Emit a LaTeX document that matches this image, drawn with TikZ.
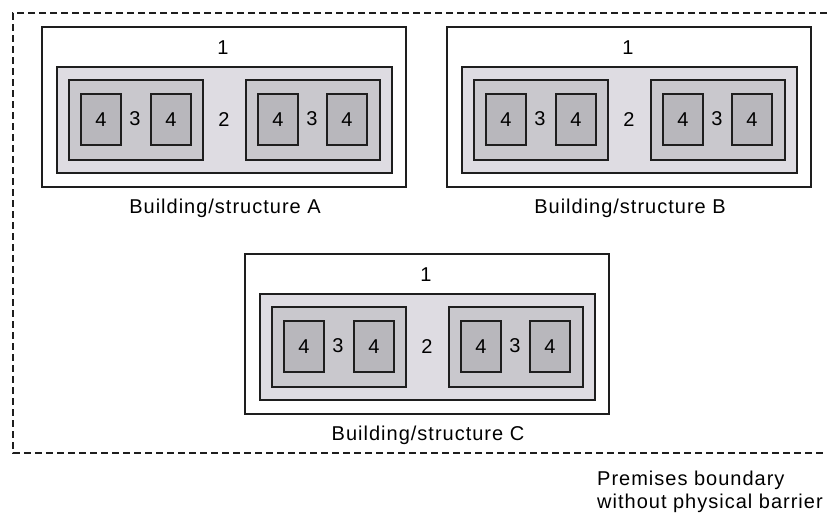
\documentclass[tikz,border=0pt]{standalone}
\usepackage{fontspec}
\setmainfont{Liberation Sans}[LetterSpace=5]
\definecolor{boxline}{RGB}{30,30,30}
\definecolor{zonetwo}{RGB}{222,220,226}
\definecolor{zonethree}{RGB}{201,200,205}
\definecolor{zonefour}{RGB}{184,183,188}
\tikzset{
  every node/.style={font=\fontsize{20}{24}\selectfont, inner sep=0pt},
  zone/.style={draw=boxline, line width=2pt, anchor=north west, inner sep=0pt},
  lvlone/.style={zone, fill=white, minimum width=364pt, minimum height=160pt},
  lvltwo/.style={zone, fill=zonetwo, minimum width=335pt, minimum height=106pt},
  lvlthree/.style={zone, fill=zonethree, minimum width=134pt, minimum height=80pt},
  lvlfour/.style={zone, fill=zonefour, minimum width=40pt, minimum height=51pt},
  digit/.style={text=black},
  caption/.style={text=black},
  boundary/.style={draw=boxline, line width=2.2pt, dash pattern=on 7pt off 4pt},
}
% one building: #1 name prefix, #2/#3 top-left corner, #4 caption
\newcommand\drawbuilding[4]{%
  \begin{scope}[shift={(#2,#3)}]
    \node[lvlone] (#1-one) at (0,0) {};
    \node[lvltwo] (#1-two) at (15,40) {};
    \node[lvlthree] (#1-left) at (27,53) {};
    \node[lvlthree] (#1-right) at (204,53) {};
    \node[lvlfour] (#1-a) at (39,67) {4};
    \node[lvlfour] (#1-b) at (109,67) {4};
    \node[lvlfour] (#1-c) at (216,67) {4};
    \node[lvlfour] (#1-d) at (285,67) {4};
    \node[digit] (#1-n1) at (182,22) {1};
    \node[digit] (#1-n2) at (183,94) {2};
    \node[digit] (#1-n3l) at (94,93) {3};
    \node[digit] (#1-n3r) at (271,93) {3};
    \node[caption] (#1-cap) at (184,182) {#4};
  \end{scope}}
\begin{document}
\begin{tikzpicture}[x=1pt, y=-1pt]
  \fill[white] (0,0) rectangle (827,515);
  \useasboundingbox (0,0) rectangle (827,515);
  % premises boundary, open to the right
  \coordinate (bnd-tr) at (827,13);
  \coordinate (bnd-br) at (827,453);
  \draw[boundary] (bnd-tr) -| (13,453) -- (bnd-br);
  \drawbuilding{A}{41}{26}{Building/structure A}
  \drawbuilding{B}{446}{26}{Building/structure B}
  \drawbuilding{C}{244}{253}{Building/structure C}
  \node[caption, anchor=base west] (prem1) at (597,485) {Premises boundary};
  \node[caption, anchor=base west] (prem2) at (597,508) {without physical barrier};
\end{tikzpicture}
\end{document}
